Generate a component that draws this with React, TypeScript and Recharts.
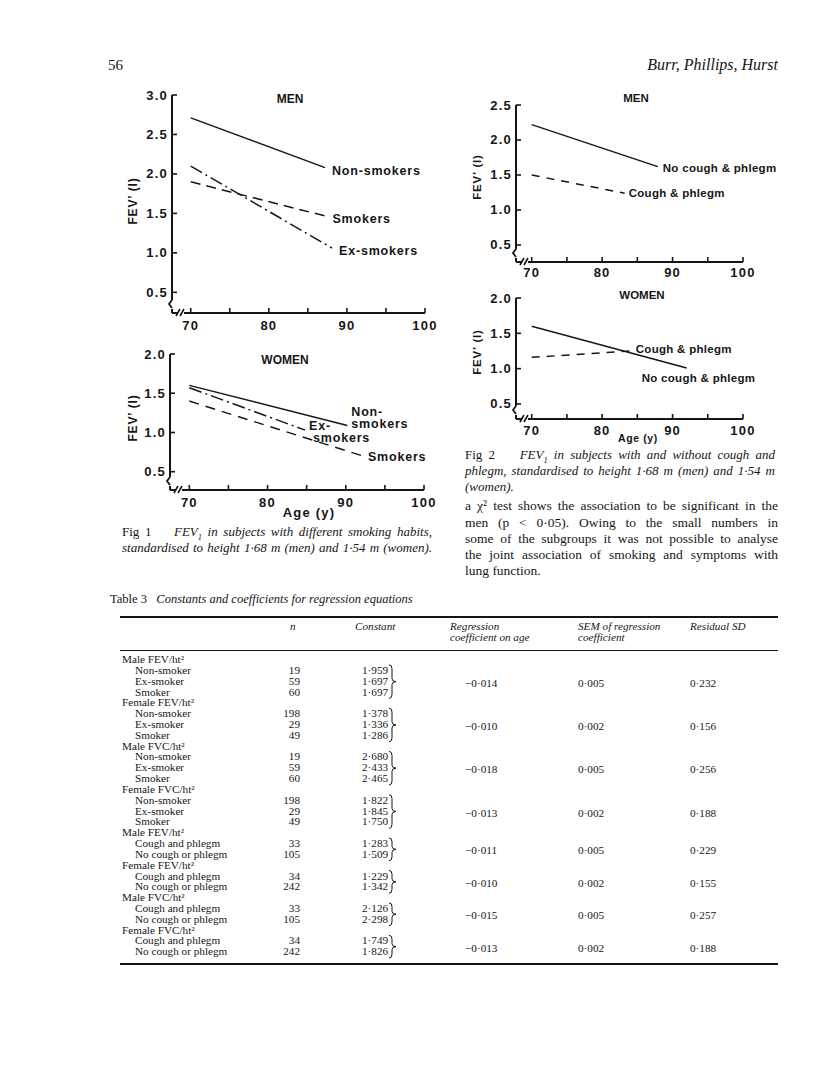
import React from "react";
import { LineChart, Line, XAxis, YAxis, LabelList } from "recharts";

const INK = "#161616";
const SANS = "'Liberation Sans', Arial, Helvetica, sans-serif";
const SERIF = "'Liberation Serif', 'Times New Roman', serif";

// Fig 1 - FEV1 (l) by age, smoking habit
const menNonSmokers = [{ age: 70, fev: 2.71 }, { age: 87.2, fev: 2.08 }];
const menSmokers = [{ age: 70, fev: 1.9 }, { age: 87.5, fev: 1.46 }];
const menExSmokers = [{ age: 70, fev: 2.1 }, { age: 88.1, fev: 1.06 }];
const womenNonSmokers = [{ age: 70, fev: 1.6 }, { age: 90.2, fev: 1.09 }];
const womenExSmokers = [{ age: 70, fev: 1.57 }, { age: 84.8, fev: 1.03 }];
const womenSmokers = [{ age: 70, fev: 1.4 }, { age: 92.2, fev: 0.7 }];

// Fig 2 - FEV1 (l) by age, cough and phlegm
const menNoCough = [{ age: 70, fev: 2.22 }, { age: 87.9, fev: 1.62 }];
const menCough = [{ age: 70, fev: 1.5 }, { age: 83.2, fev: 1.24 }];
const womenNoCough = [{ age: 70, fev: 1.6 }, { age: 92, fev: 1.01 }];
const womenCough = [{ age: 70, fev: 1.16 }, { age: 84.2, fev: 1.25 }];

const ageTicks = [70, 75, 80, 85, 90, 95, 100];
const fevTicksMen1 = [0.5, 1, 1.5, 2, 2.5, 3];
const fevTicksMen2 = [0.5, 1, 1.5, 2, 2.5];
const fevTicksWomen = [0.5, 1, 1.5, 2];

// Table 3
const groupTitles = [
  "Male FEV/ht²", "Female FEV/ht²", "Male FVC/ht²", "Female FVC/ht²",
  "Male FEV/ht²", "Female FEV/ht²", "Male FVC/ht²", "Female FVC/ht²",
];
const smokingRows = ["Non-smoker", "Ex-smoker", "Smoker"];
const symptomRows = ["Cough and phlegm", "No cough or phlegm"];
const groupN = [
  ["19", "59", "60"], ["198", "29", "49"], ["19", "59", "60"], ["198", "29", "49"],
  ["33", "105"], ["34", "242"], ["33", "105"], ["34", "242"],
];
const groupConst = [
  ["1·959", "1·697", "1·697"], ["1·378", "1·336", "1·286"],
  ["2·680", "2·433", "2·465"], ["1·822", "1·845", "1·750"],
  ["1·283", "1·509"], ["1·229", "1·342"], ["2·126", "2·298"], ["1·749", "1·826"],
];
const groupCoef = ["−0·014", "−0·010", "−0·018", "−0·013", "−0·011", "−0·010", "−0·015", "−0·013"];
const groupSem = ["0·005", "0·002", "0·005", "0·002", "0·005", "0·002", "0·005", "0·002"];
const groupSd = ["0·232", "0·156", "0·256", "0·188", "0·229", "0·155", "0·257", "0·188"];

const PAD = { left: 62, top: 22, right: 45, bottom: 42 };

function Txt({ x, y, size = 12, lh, anchor = "start", italic = false, bold = false, family = SERIF, ls = 0, children }: any) {
  const tx = anchor === "start" ? "0" : anchor === "end" ? "-100%" : "-50%";
  const lineH = lh ?? size * 1.2;
  return (
    <div
      style={{
        position: "absolute", left: x, top: y - lineH / 2 - size * 0.08, transform: `translateX(${tx})`,
        fontSize: size, lineHeight: `${lineH}px`, whiteSpace: "nowrap",
        fontStyle: italic ? "italic" : "normal", fontWeight: bold ? 700 : 400,
        fontFamily: family, letterSpacing: ls,
      }}
    >
      {children}
    </div>
  );
}

function JLine({ x, y, w, size = 13, last = false, children }: any) {
  return (
    <div
      style={{
        position: "absolute", left: x, top: y - size * 0.65, width: w, fontSize: size,
        lineHeight: `${size * 1.2}px`, textAlign: "justify", textAlignLast: last ? "left" : "justify",
      }}
    >
      {children}
    </div>
  );
}

const AgeTick = (p: any) => {
  const v = p.payload.value;
  return (
    <g>
      <line x1={p.x} x2={p.x} y1={p.y} y2={p.y - 5} stroke={INK} strokeWidth={1.6} />
      {v % 10 === 0 && (
        <text x={p.x} y={p.y + p.gap} textAnchor="middle" dominantBaseline="central"
          fontFamily={SANS} fontWeight={700} fontSize={13} letterSpacing={1.2} fill={INK}>
          {v}
        </text>
      )}
    </g>
  );
};

const FevTick = (p: any) => (
  <g>
    <line x1={p.x} x2={p.x + 5} y1={p.y} y2={p.y} stroke={INK} strokeWidth={1.6} />
    <text x={p.x - 4} y={p.y} textAnchor="end" dominantBaseline="central"
      fontFamily={SANS} fontWeight={700} fontSize={13} letterSpacing={1.2} fill={INK}>
      {Number(p.payload.value).toFixed(1)}
    </text>
  </g>
);

type LabelLine = [string, number, number];

const endLabel = (data: { age: number; fev: number }[], lines: LabelLine[], size: number, ls: number) => (p: any) => {
  const isLast = p.index !== undefined ? p.index === data.length - 1 : p.value === data[data.length - 1].fev;
  if (!isLast) return null;
  return (
    <g>
      {lines.map(([t, dx, dy], i) => (
        <text key={i} x={p.x + dx} y={p.y + dy} dominantBaseline="central" fontFamily={SANS}
          fontWeight={700} fontSize={size} letterSpacing={ls} fill={INK}>
          {t}
        </text>
      ))}
    </g>
  );
};

function series(data: any[], dash: string | undefined, lines: LabelLine[], size: number, ls: number) {
  return (
    <Line data={data} dataKey="fev" type="linear" dot={false} activeDot={false} stroke={INK}
      strokeWidth={1.5} strokeDasharray={dash} isAnimationActive={false}>
      <LabelList dataKey="fev" content={endLabel(data, lines, size, ls)} />
    </Line>
  );
}

function Panel({ plot, xDomain, yDomain, yTicks, gap, title, titleSize, yTitle, xTitle, xTitleSize, xTitleLs, children }: any) {
  const width = plot.r - plot.l + PAD.left + PAD.right;
  const height = plot.b - plot.t + PAD.top + PAD.bottom;
  const left = plot.l - PAD.left;
  const top = plot.t - PAD.top;
  const ax = PAD.left;
  const ab = PAD.top + (plot.b - plot.t);
  // axes get 1px of room each so that they are drawn; the plot edge stays at PAD
  const margin = { left: PAD.left - 1, top: PAD.top, right: PAD.right, bottom: PAD.bottom - 1 };
  return (
    <div style={{ position: "absolute", left, top, width, height }}>
      <LineChart width={width} height={height} margin={margin}>
        <XAxis type="number" dataKey="age" domain={xDomain} ticks={ageTicks} allowDataOverflow interval={0}
          height={1} tickSize={0} tickMargin={0} tickLine={false}
          axisLine={{ stroke: INK, strokeWidth: 2 }} tick={(p: any) => <AgeTick {...p} gap={gap} />} />
        <YAxis type="number" domain={yDomain} ticks={yTicks} allowDataOverflow interval={0}
          width={1} tickSize={0} tickMargin={0} tickLine={false}
          axisLine={{ stroke: INK, strokeWidth: 2 }} tick={(p: any) => <FevTick {...p} />} />
        {children}
      </LineChart>
      <svg width={width} height={height} style={{ position: "absolute", left: 0, top: 0, pointerEvents: "none" }}>
        {/* axis break marks */}
        <rect x={ax - 2} y={ab - 13} width={4} height={9} fill="#fff" />
        <path d={`M${ax},${ab - 13} L${ax - 3},${ab - 9} L${ax},${ab - 5}`} fill="none" stroke={INK} strokeWidth={1.8} />
        <rect x={ax + 6} y={ab - 2} width={6} height={4} fill="#fff" />
        <path d={`M${ax + 4},${ab + 3} L${ax + 8},${ab - 4} M${ax + 8},${ab + 3} L${ax + 12},${ab - 4}`}
          fill="none" stroke={INK} strokeWidth={1.6} />
        <text x={title.x - left} y={title.y - top} textAnchor="middle" dominantBaseline="central"
          fontFamily={SANS} fontWeight={700} fontSize={titleSize} fill={INK}>
          {title.text}
        </text>
        <text x={yTitle.x - left} y={yTitle.y - top} textAnchor="middle" dominantBaseline="central"
          transform={`rotate(-90 ${yTitle.x - left} ${yTitle.y - top})`}
          fontFamily={SANS} fontWeight={700} fontSize={titleSize} letterSpacing={0.8} fill={INK}>
          FEV’ (l)
        </text>
        {xTitle && (
          <text x={xTitle.x - left} y={xTitle.y - top} textAnchor="middle" dominantBaseline="central"
            fontFamily={SANS} fontWeight={700} fontSize={xTitleSize} letterSpacing={xTitleLs} fill={INK}>
            Age (y)
          </text>
        )}
      </svg>
    </div>
  );
}

function Table() {
  const ROW0 = 660;
  const PITCH = 10.82;
  const size = 11.2;
  const lh = 10;
  const items: any[] = [];
  const braces: string[] = [];
  let r = 0;
  groupTitles.forEach((title, g) => {
    const names = g < 4 ? smokingRows : symptomRows;
    items.push(<Txt key={`g${g}`} x={122} y={ROW0 + r * PITCH} size={size} lh={lh}>{title}</Txt>);
    r++;
    const first = r;
    names.forEach((nm, i) => {
      const y = ROW0 + r * PITCH;
      items.push(<Txt key={`n${g}-${i}`} x={135} y={y} size={size} lh={lh}>{nm}</Txt>);
      items.push(<Txt key={`c${g}-${i}`} x={300} y={y} size={size} lh={lh} anchor="end">{groupN[g][i]}</Txt>);
      items.push(<Txt key={`k${g}-${i}`} x={362} y={y} size={size} lh={lh}>{groupConst[g][i]}</Txt>);
      r++;
    });
    const last = r - 1;
    const y1 = ROW0 + first * PITCH - 6;
    const y2 = ROW0 + last * PITCH + 6;
    const m = (y1 + y2) / 2;
    const bx = 389;
    braces.push(
      `M${bx},${y1} Q${bx + 3},${y1} ${bx + 3},${y1 + 4} L${bx + 3},${m - 3} Q${bx + 3},${m} ${bx + 7},${m} ` +
      `Q${bx + 3},${m} ${bx + 3},${m + 3} L${bx + 3},${y2 - 4} Q${bx + 3},${y2} ${bx},${y2}`
    );
    const my = ROW0 + ((first + last) / 2) * PITCH + 2;
    items.push(<Txt key={`r${g}`} x={465} y={my} size={size} lh={lh}>{groupCoef[g]}</Txt>);
    items.push(<Txt key={`s${g}`} x={578} y={my} size={size} lh={lh}>{groupSem[g]}</Txt>);
    items.push(<Txt key={`d${g}`} x={690} y={my} size={size} lh={lh}>{groupSd[g]}</Txt>);
  });
  return (
    <>
      <Txt x={110} y={600} size={12.5}>
        Table 3&nbsp;&nbsp;&nbsp;<i>Constants and coefficients for regression equations</i>
      </Txt>
      <div style={{ position: "absolute", left: 120, top: 615.5, width: 658, height: 2.2, background: INK }} />
      <Txt x={290} y={627} size={size} lh={lh} italic>n</Txt>
      <Txt x={355} y={627} size={size} lh={lh} italic>Constant</Txt>
      <Txt x={450} y={627} size={size} lh={lh} italic>Regression</Txt>
      <Txt x={450} y={638} size={size} lh={lh} italic>coefficient on age</Txt>
      <Txt x={578} y={627} size={size} lh={lh} italic>SEM of regression</Txt>
      <Txt x={578} y={638} size={size} lh={lh} italic>coefficient</Txt>
      <Txt x={690} y={627} size={size} lh={lh} italic>Residual SD</Txt>
      <div style={{ position: "absolute", left: 120, top: 649.5, width: 658, height: 1, background: INK }} />
      {items}
      <svg width={816} height={1084} style={{ position: "absolute", left: 0, top: 0, pointerEvents: "none" }}>
        {braces.map((d, i) => (
          <path key={i} d={d} fill="none" stroke={INK} strokeWidth={1} />
        ))}
      </svg>
      <div style={{ position: "absolute", left: 120, top: 962.5, width: 658, height: 2.2, background: INK }} />
    </>
  );
}

export default function App() {
  return (
    <div style={{ position: "absolute", left: 0, top: 0, width: 816, height: 1084, background: "#fff", overflow: "hidden", fontFamily: SERIF, color: INK }}>
      <Txt x={108} y={66} size={15}>56</Txt>
      <Txt x={778} y={66} size={16} anchor="end" italic>Burr, Phillips, Hurst</Txt>

      <Panel plot={{ l: 172, t: 95, r: 425, b: 313 }} xDomain={[67.6, 100]} yDomain={[0.238, 3]} yTicks={fevTicksMen1}
        gap={12} title={{ text: "MEN", x: 290, y: 99 }} titleSize={12} yTitle={{ x: 133, y: 201 }}>
        {series(menNonSmokers, undefined, [["Non-smokers", 7, 3]], 12.5, 0.8)}
        {series(menSmokers, "10 6", [["Smokers", 5, 2]], 12.5, 0.8)}
        {series(menExSmokers, "13 4 2 4", [["Ex-smokers", 7, 3]], 12.5, 0.8)}
      </Panel>

      <Panel plot={{ l: 170, t: 354, r: 424, b: 490 }} xDomain={[67.53, 100]} yDomain={[0.267, 2]} yTicks={fevTicksWomen}
        gap={12} title={{ text: "WOMEN", x: 285, y: 360 }} titleSize={12} yTitle={{ x: 133, y: 418 }}
        xTitle={{ x: 309, y: 512 }} xTitleSize={13} xTitleLs={1.2}>
        {series(womenNonSmokers, undefined, [["Non-", 4, -13], ["smokers", 4, -1]], 12.5, 0.8)}
        {series(womenExSmokers, "13 4 2 4", [["Ex-", 4, -4], ["smokers", 8, 8]], 12.5, 0.8)}
        {series(womenSmokers, "10 7", [["Smokers", 5, 1]], 12.5, 0.8)}
      </Panel>

      <JLine x={122} y={532} w={310} size={13}>
        Fig 1&nbsp;&nbsp;&nbsp; <i>FEV<sub style={{ fontSize: "0.65em" }}>1</sub> in subjects with different smoking habits,</i>
      </JLine>
      <JLine x={122} y={548} w={310} size={13}>
        <i>standardised to height 1·68 m (men) and 1·54 m (women).</i>
      </JLine>

      <Panel plot={{ l: 516, t: 105, r: 743, b: 262 }} xDomain={[67.77, 100]} yDomain={[0.257, 2.5]} yTicks={fevTicksMen2}
        gap={10} title={{ text: "MEN", x: 636, y: 98 }} titleSize={11.5} yTitle={{ x: 477, y: 177 }}>
        {series(menNoCough, undefined, [["No cough & phlegm", 5, 1]], 11.5, 0.3)}
        {series(menCough, "8 7", [["Cough & phlegm", 4, 0]], 11.5, 0.3)}
      </Panel>

      <Panel plot={{ l: 516, t: 298, r: 743, b: 419 }} xDomain={[67.77, 100]} yDomain={[0.287, 2]} yTicks={fevTicksWomen}
        gap={11} title={{ text: "WOMEN", x: 642, y: 295 }} titleSize={11.5} yTitle={{ x: 477, y: 352 }}
        xTitle={{ x: 638, y: 438 }} xTitleSize={10.5} xTitleLs={0.6}>
        {series(womenNoCough, undefined, [["No cough & phlegm", -45, 10]], 11.5, 0.3)}
        {series(womenCough, "8 7", [["Cough & phlegm", 4, -2]], 11.5, 0.3)}
      </Panel>

      <JLine x={465} y={455} w={310} size={13}>
        Fig 2&nbsp;&nbsp;&nbsp; <i>FEV<sub style={{ fontSize: "0.65em" }}>1</sub> in subjects with and without cough and</i>
      </JLine>
      <JLine x={465} y={471} w={310} size={13}>
        <i>phlegm, standardised to height 1·68 m (men) and 1·54 m</i>
      </JLine>
      <JLine x={465} y={487} w={310} size={13} last>
        <i>(women).</i>
      </JLine>

      <JLine x={465} y={507} w={313} size={13.5}>a χ² test shows the association to be significant in the</JLine>
      <JLine x={465} y={523.5} w={313} size={13.5}>men (p &lt; 0·05). Owing to the small numbers in</JLine>
      <JLine x={465} y={540} w={313} size={13.5}>some of the subgroups it was not possible to analyse</JLine>
      <JLine x={465} y={556} w={313} size={13.5}>the joint association of smoking and symptoms with</JLine>
      <JLine x={465} y={572} w={313} size={13.5} last>lung function.</JLine>

      <Table />
    </div>
  );
}
